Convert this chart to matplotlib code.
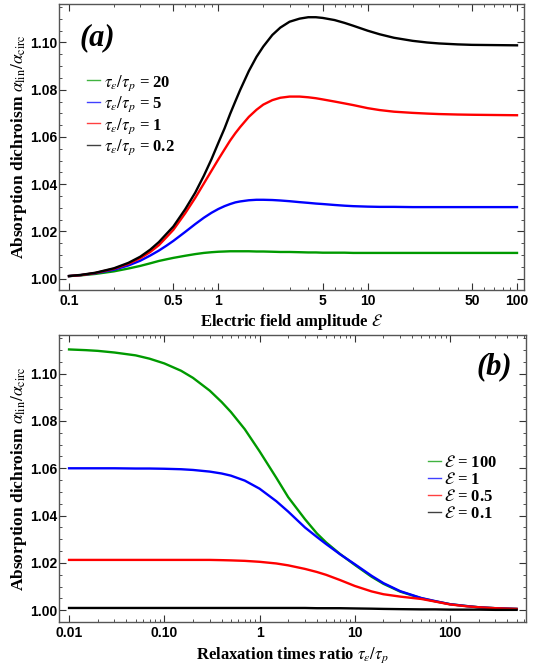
import numpy as np
import matplotlib.pyplot as plt
from matplotlib.ticker import FixedLocator, NullFormatter

plt.rcParams['mathtext.fontset'] = 'stix'
plt.rcParams['font.family'] = ['Liberation Serif', 'DejaVu Serif']

# ---- panel (a): dichroism vs field amplitude E ----
field = [0.1, 0.12, 0.15, 0.2, 0.25, 0.3, 0.35, 0.4, 0.45, 0.5, 0.6, 0.7, 0.8, 0.9, 1.0,
         1.1, 1.2, 1.3, 1.4, 1.6, 1.8, 2.0, 2.3, 2.6, 3.0, 3.5, 4.0, 4.5, 5.0, 6.0, 7.0,
         8.0, 10, 12, 15, 20, 25, 30, 40, 50, 70, 100]
a_tau20 = [1.0011, 1.0014, 1.0020, 1.0031, 1.0043, 1.0054, 1.0065, 1.0075, 1.0082, 1.0088,
           1.0097, 1.0104, 1.0109, 1.0112, 1.0114, 1.0115, 1.0116, 1.0116, 1.0116, 1.0116,
           1.0115, 1.0115, 1.0114, 1.0113, 1.0113, 1.0112, 1.0111, 1.0111, 1.0110, 1.0110,
           1.0110, 1.0109, 1.0109, 1.0109, 1.0109, 1.0109, 1.0109, 1.0109, 1.0109, 1.0109,
           1.0109, 1.0109]
a_tau5 = [1.0011, 1.0015, 1.0023, 1.0038, 1.0056, 1.0076, 1.0098, 1.0119, 1.0140, 1.0160,
          1.0198, 1.0231, 1.0258, 1.0279, 1.0295, 1.0307, 1.0316, 1.0323, 1.0327, 1.0332,
          1.0334, 1.0334, 1.0333, 1.0331, 1.0328, 1.0324, 1.0321, 1.0318, 1.0316, 1.0312,
          1.0309, 1.0307, 1.0305, 1.0304, 1.0304, 1.0303, 1.0303, 1.0303, 1.0303, 1.0303,
          1.0303, 1.0303]
a_tau1 = [1.0011, 1.0015, 1.0024, 1.0042, 1.0063, 1.0087, 1.0113, 1.0142, 1.0176, 1.0207,
          1.0277, 1.0342, 1.0403, 1.0457, 1.0505, 1.0547, 1.0585, 1.0616, 1.0642, 1.0685,
          1.0715, 1.0737, 1.0756, 1.0766, 1.0771, 1.0771, 1.0768, 1.0764, 1.0759, 1.0750,
          1.0742, 1.0735, 1.0722, 1.0714, 1.0707, 1.0702, 1.0699, 1.0697, 1.0695, 1.0694,
          1.0693, 1.0692]
a_tau02 = [1.0011, 1.0016, 1.0025, 1.0044, 1.0067, 1.0093, 1.0123, 1.0155, 1.0190, 1.0221,
           1.0294, 1.0364, 1.0436, 1.0506, 1.0575, 1.0636, 1.0698, 1.0751, 1.0799, 1.0879,
           1.0939, 1.0983, 1.1032, 1.1063, 1.1088, 1.1101, 1.1107, 1.1107, 1.1104, 1.1095,
           1.1083, 1.1071, 1.1050, 1.1035, 1.1020, 1.1007, 1.1000, 1.0996, 1.0992, 1.0990,
           1.0989, 1.0988]

# ---- panel (b): dichroism vs relaxation times ratio ----
ratio = [0.01, 0.015, 0.02, 0.03, 0.05, 0.07, 0.1, 0.15, 0.2, 0.3, 0.4, 0.5, 0.7, 1.0,
         1.5, 2.0, 3.0, 4.0, 5.0, 7.0, 10, 15, 20, 30, 50, 70, 100, 150, 200, 300, 500]
b_e100 = [1.1102, 1.1099, 1.1096, 1.1089, 1.1077, 1.1063, 1.1043, 1.1012, 1.0982, 1.0928,
          1.0880, 1.0838, 1.0765, 1.0672, 1.0560, 1.0478, 1.0385, 1.0325, 1.0287, 1.0238,
          1.0192, 1.0142, 1.0112, 1.0079, 1.0051, 1.0038, 1.0026, 1.0018, 1.0013, 1.0009,
          1.0006]
b_e1 = [1.0600, 1.0600, 1.0600, 1.0600, 1.0599, 1.0599, 1.0598, 1.0596, 1.0593, 1.0586,
        1.0578, 1.0569, 1.0548, 1.0514, 1.0461, 1.0417, 1.0350, 1.0310, 1.0280, 1.0237,
        1.0195, 1.0146, 1.0115, 1.0081, 1.0052, 1.0039, 1.0026, 1.0018, 1.0013, 1.0009,
        1.0006]
b_e05 = [1.0213, 1.0213, 1.0213, 1.0213, 1.0213, 1.0213, 1.0213, 1.0213, 1.0213, 1.0213,
         1.0212, 1.0211, 1.0209, 1.0205, 1.0198, 1.0190, 1.0175, 1.0162, 1.0150, 1.0128,
         1.0103, 1.0080, 1.0068, 1.0058, 1.0048, 1.0037, 1.0025, 1.0017, 1.0013, 1.0009,
         1.0006]
b_e01 = [1.0010, 1.0010, 1.0010, 1.0010, 1.0010, 1.0010, 1.0010, 1.0010, 1.0010, 1.0010,
         1.0010, 1.0010, 1.0010, 1.0010, 1.0010, 1.0010, 1.0010, 1.0009, 1.0009, 1.0009,
         1.0008, 1.0007, 1.0006, 1.0005, 1.0004, 1.0004, 1.0003, 1.0003, 1.0003, 1.0002,
         1.0002]

green = '#009a00'
lw = 1.7

fig = plt.figure(figsize=(5.42, 6.71), dpi=100)
ax1 = fig.add_axes([59 / 542, 1 - 290 / 671, 465 / 542, 286 / 671])
ax2 = fig.add_axes([59.3 / 542, 1 - 621.7 / 671, 466.7 / 542, 286.7 / 671])

ax1.plot(field, a_tau20, color=green, lw=lw, label=r'$\tau_\epsilon/\tau_p$ = 20')
ax1.plot(field, a_tau5, color='blue', lw=lw, label=r'$\tau_\epsilon/\tau_p$ = 5')
ax1.plot(field, a_tau1, color='red', lw=lw, label=r'$\tau_\epsilon/\tau_p$ = 1')
ax1.plot(field, a_tau02, color='black', lw=lw, label=r'$\tau_\epsilon/\tau_p$ = 0.2')

ax2.plot(ratio, b_e100, color=green, lw=lw, label=r'$\mathcal{E}$ = 100')
ax2.plot(ratio, b_e1, color='blue', lw=lw, label=r'$\mathcal{E}$ = 1')
ax2.plot(ratio, b_e05, color='red', lw=lw, label=r'$\mathcal{E}$ = 0.5')
ax2.plot(ratio, b_e01, color='black', lw=lw, label=r'$\mathcal{E}$ = 0.1')

tick_font = {'family': 'Liberation Sans', 'weight': 'bold', 'size': 10}
ylabel = r'Absorption dichroism $\alpha_{\rm lin}/\alpha_{\rm circ}$'

for ax in (ax1, ax2):
    ax.set_xscale('log')
    ax.set_ylim(0.9952, 1.1163)
    ax.yaxis.set_major_locator(FixedLocator([1.00, 1.02, 1.04, 1.06, 1.08, 1.10]))
    ax.yaxis.set_minor_locator(FixedLocator(np.arange(0.995, 1.1163, 0.005)))
    ax.set_yticklabels(['1.00', '1.02', '1.04', '1.06', '1.08', '1.10'], fontdict=tick_font)
    ax.tick_params(which='both', direction='in', top=True, right=True, color='#333333')
    ax.tick_params(which='major', length=5, width=0.8, pad=3)
    ax.tick_params(which='minor', length=2.5, width=0.6)
    ax.tick_params(axis='y', which='major', pad=1.5)
    for s in ax.spines.values():
        s.set_color('#555555')
        s.set_linewidth(1.0)
    ax.set_ylabel(ylabel, fontsize=12.5, fontweight='bold', labelpad=0.5)

ax1.set_xlim(0.0857, 111.4)
ax1.xaxis.set_major_locator(FixedLocator([0.1, 0.5, 1, 5, 10, 50, 100]))
ax1.xaxis.set_minor_locator(FixedLocator([0.2, 0.3, 0.4, 0.6, 0.7, 0.8, 0.9, 2, 3, 4, 6, 7, 8, 9,
                                          20, 30, 40, 60, 70, 80, 90]))
ax1.xaxis.set_minor_formatter(NullFormatter())
ax1.set_xticklabels(['0.1', '0.5', '1', '5', '10', '50', '100'], fontdict=tick_font)
ax1.set_xlabel(r'Electric field amplitude $\mathcal{E}$', fontsize=12, fontweight='bold', labelpad=3)

ax2.set_xlim(0.0079, 628)
ax2.xaxis.set_major_locator(FixedLocator([0.01, 0.1, 1, 10, 100]))
minors = [m * 10.0 ** k for k in range(-2, 3) for m in range(2, 10)]
ax2.xaxis.set_minor_locator(FixedLocator(minors))
ax2.xaxis.set_minor_formatter(NullFormatter())
ax2.set_xticklabels(['0.01', '0.10', '1', '10', '100'], fontdict=tick_font)
ax2.set_xlabel(r'Relaxation times ratio $\tau_\epsilon/\tau_p$', fontsize=12, fontweight='bold', labelpad=4)

leg1 = ax1.legend(loc='upper left', bbox_to_anchor=(0.060, 0.759), frameon=False,
                  borderpad=0, borderaxespad=0, handlelength=0.8, handletextpad=0.25,
                  labelspacing=0.12, prop={'weight': 'bold', 'size': 12})
leg2 = ax2.legend(loc='upper left', bbox_to_anchor=(0.790, 0.581), frameon=False,
                  borderpad=0, borderaxespad=0, handlelength=0.8, handletextpad=0.15,
                  labelspacing=0.05, prop={'weight': 'bold', 'size': 12})
for leg in (leg1, leg2):
    for h in leg.legend_handles:
        h.set_linewidth(1.0)
        h.set_alpha(0.75)

ax1.text(0.082, 0.881, '(a)', transform=ax1.transAxes, ha='center', va='center',
         fontsize=22, fontweight='bold', fontstyle='italic')
ax2.text(0.931, 0.888, '(b)', transform=ax2.transAxes, ha='center', va='center',
         fontsize=22, fontweight='bold', fontstyle='italic')

fig.savefig('out.png', dpi=100)
